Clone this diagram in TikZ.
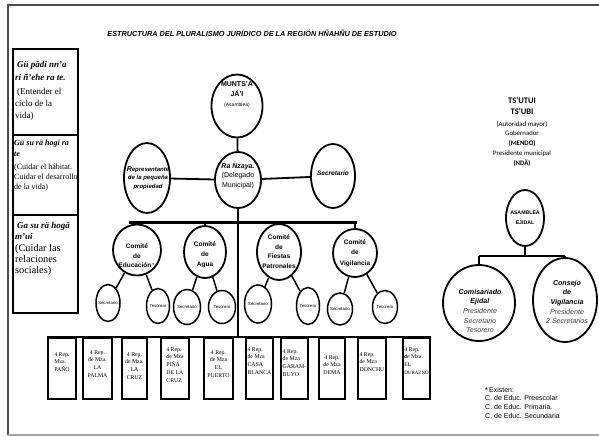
\documentclass[tikz,border=0pt]{standalone}
\usepackage{fontspec}
\setmainfont{Liberation Serif}
\setsansfont{Liberation Sans}
\newfontfamily\calfont{Carlito}
\usetikzlibrary{shapes.geometric}
\begin{document}
\begin{tikzpicture}[x=1pt,y=-1pt,
  oval/.style={ellipse,draw,line width=1.8pt,inner sep=0pt},
  subov/.style={ellipse,draw,line width=1.5pt,inner sep=0pt},
  subtxt/.style={inner sep=0pt,font=\sffamily\fontsize{4.3}{5}\selectfont},
  rbox/.style={draw,line width=2.4pt,inner sep=0pt,minimum height=61pt},
  btxt/.style={inner sep=0pt,anchor=north,font=\fontsize{5.8}{7.9}\selectfont},
  txt/.style={inner sep=0pt,align=center},
  conn/.style={line width=1.8pt},
  thinconn/.style={line width=1.5pt},
  barline/.style={line width=3pt},
  frameline/.style={line width=1.4pt,draw=black!70},
  ltxt/.style={inner sep=0pt,align=left,anchor=north west},
  rtxt/.style={inner sep=0pt,align=center,font=\sffamily\fontsize{7.1}{9.7}\selectfont},
]
\useasboundingbox (0,0) rectangle (599,436);
% frame
\coordinate (ftl) at (8,5);
\coordinate (ftr) at (599,5);
\coordinate (fbl) at (8,435);
\coordinate (fbr) at (599,435);
\draw[frameline] (ftr) -- (ftl) -- (fbl);
\draw[line width=1.2pt,draw=black!35] (fbl) -- (fbr);

% title
\node[inner sep=0pt,font=\sffamily\bfseries\itshape\fontsize{7.3}{9}\selectfont] (title) at (252,33)
  {ESTRUCTURA DEL PLURALISMO JURÍDICO DE LA REGIÓN HÑAHÑU DE ESTUDIO};

% left box
\node[draw,line width=2pt,minimum width=65pt,minimum height=264pt,inner sep=0pt] (lbox) at (45.5,181) {};
\coordinate (s1) at (13,135);
\coordinate (s2) at (13,215);
\draw[line width=1.1pt] (s1) -- (s1 -| lbox.east);
\draw[line width=1.1pt] (s2) -- (s2 -| lbox.east);
\node[ltxt,font=\fontsize{9}{12.5}\selectfont] (lt1) at (15,61)
  {\hspace*{2pt}\textbf{\textit{Gü pädi nn'a}}\\[0.5pt] \textbf{\textit{ri ñ'ehe ra te.}}\\[2pt]
   \hspace*{2pt}(Entender el\\[-0.5pt] ciclo de la\\[-0.5pt] vida)};
\node[ltxt,font=\fontsize{8}{10.3}\selectfont] (lt2) at (14,140)
  {\textbf{\textit{Gü su rä hogi ra}}\\ \textbf{\textit{te}}\\[3.5pt]
   (Cuidar el hábitat.\\[-0.5pt] Cuidar el desarrollo\\[-0.5pt] de la vida)};
\node[ltxt,font=\fontsize{9}{11.5}\selectfont] (lt3) at (15,222)
  {\hspace*{2pt}\textbf{\textit{Ga su rä hogä}}\\ \textbf{\textit{m'ui}}\\[0pt]
   {\fontsize{10.3}{11}\selectfont (Cuidar las}\\[-0.5pt] {\fontsize{10.3}{11}\selectfont relaciones}\\[-0.5pt] {\fontsize{10.3}{11}\selectfont sociales)}};

% top ellipses
\node[oval,minimum width=51pt,minimum height=63pt] (munts) at (237,106) {};
\node[txt,font=\sffamily\fontsize{7}{10}\selectfont] (muntst) at (237,95)
  {\textbf{MUNTS'A}\\\textbf{JÄ'I}\\{\fontsize{5}{6}\selectfont (Asamblea)}};
\node[oval,minimum width=46pt,minimum height=56pt] (ra) at (238,180) {};
\node[txt,font=\sffamily\fontsize{7}{9.5}\selectfont] (rat) at (238,176)
  {\textbf{\textit{Ra Nzaya.}}\\(Delegado\\Municipal)};
\node[oval,minimum width=46pt,minimum height=70pt] (rep) at (147,178) {};
\node[txt,font=\sffamily\bfseries\itshape\fontsize{6}{8.5}\selectfont] (rept) at (148,178)
  {{\fontsize{7}{8.5}\selectfont R}epresentante\\de la pequeña\\propiedad};
\node[oval,minimum width=44pt,minimum height=64pt] (sec) at (333,176) {};
\node[txt,font=\sffamily\bfseries\itshape\fontsize{6.5}{8}\selectfont] (sect) at (333,173) {Secretario};

\draw[conn] (munts) -- (ra);
\draw[conn] (rep) -- (ra);
\draw[conn] (ra) -- (sec);

% committees
\node[oval,minimum width=48pt,minimum height=51pt] (edu) at (137,250) {};
\node[txt,font=\sffamily\bfseries\fontsize{6.5}{9.5}\selectfont] (edut) at (137,256)
  {Comité\\de\\Educación$^{*}$};
\node[oval,minimum width=42pt,minimum height=52pt] (agua) at (205,252) {};
\node[txt,font=\sffamily\bfseries\fontsize{6.5}{10}\selectfont] (aguat) at (205,255)
  {Comité\\de\\Agua};
\node[oval,minimum width=44pt,minimum height=56pt] (fies) at (279,252) {};
\node[txt,font=\sffamily\bfseries\fontsize{6.5}{9.6}\selectfont] (fiest) at (279,251.5)
  {Comité\\de\\Fiestas\\Patronales};
\node[oval,minimum width=44pt,minimum height=48pt] (vig) at (355,253) {};
\node[txt,font=\sffamily\bfseries\fontsize{6.5}{10.5}\selectfont] (vigt) at (355,253)
  {Comité\\de\\Vigilancia};

\coordinate (cbl) at (129,222);
\coordinate (cbr) at (357,222);
\draw[barline] (cbl) -- (cbr);
\draw[conn] (edu.north |- cbl) -- (edu.north);
\draw[conn] (agua.north |- cbl) -- (agua.north);
\draw[conn] (fies.north |- cbl) -- (fies.north);
\draw[conn] (vig.north |- cbl) -- (vig.north);

% sub ellipses
\node[subov,minimum width=24pt,minimum height=37pt] (es) at (108,303) {};
\node[subtxt] (est) at (108,303) {Secretario};
\node[subov,minimum width=23pt,minimum height=35pt] (et) at (158,306) {};
\node[subtxt] (ett) at (158,306) {Tesorero};
\node[subov,minimum width=27pt,minimum height=35pt] (as) at (187,307) {};
\node[subtxt] (ast) at (187,307) {Secretario};
\node[subov,minimum width=27pt,minimum height=33pt] (at) at (222,307) {};
\node[subtxt] (att) at (222,307) {Tesorero};
\node[subov,minimum width=27pt,minimum height=38pt] (fs) at (258,304) {};
\node[subtxt] (fst) at (258,304) {Secretario};
\node[subov,minimum width=23pt,minimum height=37pt] (ft) at (308,306) {};
\node[subtxt] (ftt) at (308,306) {Tesorero};
\node[subov,minimum width=25pt,minimum height=32pt] (vs) at (340,309) {};
\node[subtxt] (vst) at (340,309) {Secretario};
\node[subov,minimum width=25pt,minimum height=33pt] (vt) at (385,307) {};
\node[subtxt] (vtt) at (385,307) {Tesorero};
\draw[thinconn] (edu) -- (es);
\draw[thinconn] (edu) -- (et);
\draw[thinconn] (agua) -- (as);
\draw[thinconn] (agua) -- (at);
\draw[thinconn] (fies) -- (fs);
\draw[thinconn] (fies) -- (ft);
\draw[thinconn] (vig) -- (vs);
\draw[thinconn] (vig) -- (vt);

% boxes
\node[rbox,minimum width=28pt] (b1) at (62,368.5) {};
\node[rbox,minimum width=29pt] (b2) at (97.5,368.5) {};
\node[rbox,minimum width=25pt] (b3) at (134.5,368.5) {};
\node[rbox,minimum width=28pt] (b4) at (175,368.5) {};
\node[rbox,minimum width=29pt] (b5) at (218.5,368.5) {};
\node[rbox,minimum width=27pt] (b6) at (259.5,368.5) {};
\node[rbox,minimum width=27pt] (b7) at (294.5,368.5) {};
\node[rbox,minimum width=26pt] (b8) at (332,368.5) {};
\node[rbox,minimum width=28pt] (b9) at (372,368.5) {};
\node[rbox,minimum width=27pt] (b10) at (416.5,368.5) {};
\node[btxt,align=left] (b1t) at (62,352) {4 Rep.\\Mza.\\PAÑO};
\node[btxt,align=center] (b2t) at (97.5,350) {4 Rep.\\de Mza.\\LA\\PALMA};
\node[btxt,align=center] (b3t) at (134.5,352) {4 Rep.\\de Mza.\\LA\\CRUZ};
\node[btxt,align=left] (b4t) at (175,347) {4 Rep.\\de Mza\\PIÑA\\DE LA\\CRUZ};
\node[btxt,align=center] (b5t) at (218.5,350) {4 Rep.\\de Mza\\EL\\PUERTO};
\node[btxt,align=left] (b6t) at (259.5,347) {4 Rep.\\de Mza\\CASA\\BLANCA};
\node[btxt,align=left] (b7t) at (294.5,349) {4 Rep.\\de Mza\\GARAM-\\BUYO};
\node[btxt,align=center] (b8t) at (332,355) {4 Rep.\\de Mza\\DEMA};
\node[btxt,align=left] (b9t) at (372,352) {4 Rep.\\de Mza\\DONCHU};
\node[btxt,align=left] (b10t) at (416.5,347) {4 Rep.\\de Mza.\\EL\\{\fontsize{5}{7.9}\selectfont DURAZNO}};
\draw[line width=2.5pt] (b1.north west) -- (b10.north east);
\draw[line width=1.2pt] (ra.south) -- (ra.south |- b1.north);

% right side
\node[inner sep=0pt,align=center,anchor=north,font=\calfont\fontsize{6.8}{10}\selectfont] (tsu) at (522,97)
  {{\fontsize{8.5}{10}\selectfont\bfseries TS'UTUI}\\[1pt]
   {\fontsize{8.5}{10}\selectfont\bfseries TS'UBI}\\[2pt]
   (Autoridad mayor)\\[-1pt]
   Gobernador\\[0pt]
   \textbf{(MENDO)}\\[0pt]
   Presidente municipal\\[0pt]
   \textbf{(NDÄ)}};

\node[oval,minimum width=38pt,minimum height=56pt] (asam) at (525,218) {};
\node[txt,font=\sffamily\bfseries\fontsize{5.2}{10}\selectfont] (asamt) at (525,218) {ASAMBLEA\\EJIDAL};
\node[oval,minimum width=72pt,minimum height=76pt] (comis) at (479,303) {};
\node[rtxt] (comist) at (480,311)
  {\textbf{\textit{Comisariado}}\\\textbf{\textit{Ejidal}}\\{\color{black!75}\textit{Presidente}}\\{\color{black!75}\textit{Secretario}}\\{\color{black!75}\textit{Tesorero}}};
\node[oval,minimum width=64pt,minimum height=84pt] (cons) at (565,300) {};
\node[rtxt] (const) at (567,302)
  {\textbf{\textit{Consejo}}\\\textbf{\textit{de}}\\\textbf{\textit{Vigilancia}}\\{\color{black!75}\textit{Presidente}}\\{\color{black!75}\textit{2 Secretarios}}};
\coordinate (ejb) at (525,256);
\draw[conn] (asam.south) -- (ejb);
\draw[line width=2.6pt] (comis.north |- ejb) -- (cons.north |- ejb);
\draw[conn] (comis.north |- ejb) -- (comis.north);
\draw[conn] (cons.north |- ejb) -- (cons.north);

% footnote
\node[ltxt,font=\sffamily\fontsize{7}{8.7}\selectfont] (foot) at (485,387)
  {\textbf{*}\,Existen:\\C. de Educ. Preescolar\\C. de Educ. Primaria.\\C. de Educ. Secundaria};
\end{tikzpicture}
\end{document}
